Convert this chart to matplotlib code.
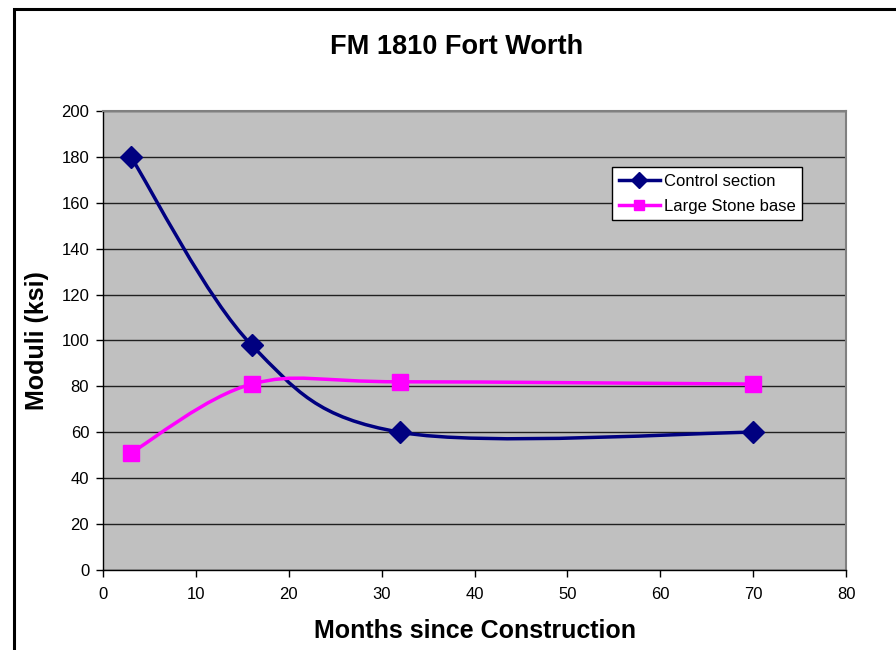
import numpy as np
import matplotlib
matplotlib.use("Agg")
import matplotlib.pyplot as plt
from matplotlib.path import Path
from matplotlib.patches import PathPatch, Rectangle
from matplotlib.lines import Line2D

plt.rcParams["font.family"] = ["Liberation Sans", "DejaVu Sans"]

months = [3, 16, 32, 70]
control = [180, 98, 60, 60]
large_stone = [51, 81, 82, 81]


def smooth_path(x, y):
    # Excel-style smoothed line: cubic bezier with catmull-rom tangents
    pts = np.column_stack([x, y]).astype(float)
    n = len(pts)
    verts = [pts[0]]
    codes = [Path.MOVETO]
    for i in range(n - 1):
        p_prev = pts[max(i - 1, 0)]
        p0, p1 = pts[i], pts[i + 1]
        p_next = pts[min(i + 2, n - 1)]
        c1 = p0 + (p1 - p_prev) / 6
        c2 = p1 - (p_next - p0) / 6
        verts += [c1, c2, p1]
        codes += [Path.CURVE4] * 3
    return Path(verts, codes)


fig = plt.figure(figsize=(8.96, 6.5), dpi=100)
ax = fig.add_axes([0.1150, 0.1231, 0.8292, 0.7062])
ax.set_facecolor("#C0C0C0")

# outer chart border
fig.patches.append(Rectangle((14 / 896, -0.1), 1.2, 0.986 + 0.1, transform=fig.transFigure,
                             fill=False, edgecolor="black", linewidth=2.2, clip_on=False))

series = [
    (control, "#000080", "D", 11, "Control section"),
    (large_stone, "#FF00FF", "s", 11, "Large Stone base"),
]
handles = []
for vals, col, mk, ms, lab in series:
    ax.add_patch(PathPatch(smooth_path(months, vals), facecolor="none", edgecolor=col,
                           linewidth=2.5, zorder=3))
    ax.plot(months, vals, linestyle="none", marker=mk, color=col, markersize=ms,
            markeredgecolor=col, zorder=4)
    handles.append(Line2D([], [], color=col, linewidth=2.5, marker=mk,
                          markersize=ms * 0.7, label=lab))

ax.set_xlim(0, 80)
ax.set_ylim(0, 200)
ax.set_xticks(range(0, 81, 10))
ax.set_yticks(range(0, 201, 20))
ax.yaxis.grid(True, color="#202020", linewidth=1)
ax.set_axisbelow(True)
ax.tick_params(direction="out", length=5, width=1, labelsize=12, color="black")
ax.tick_params(axis="x", pad=7)
ax.tick_params(axis="y", pad=5)

for s in ["top", "right"]:
    ax.spines[s].set_color("#808080")
    ax.spines[s].set_linewidth(1.5)
for s in ["left", "bottom"]:
    ax.spines[s].set_color("black")
    ax.spines[s].set_linewidth(1)

fig.text(457 / 896, 1 - 47 / 650, "FM 1810 Fort Worth", fontsize=19.5, fontweight="bold",
         ha="center", va="center")
ax.set_xlabel("Months since Construction", fontsize=18, fontweight="bold")
ax.xaxis.set_label_coords(0.5, -(631 - 570) / 459)
ax.xaxis.label.set_va("center")
ax.set_ylabel("Moduli (ksi)", fontsize=18, fontweight="bold")
ax.yaxis.set_label_coords(-(103 - 37) / 743, (570 - 341) / 459)
ax.yaxis.label.set_va("center")

leg = ax.legend(handles=handles, loc="upper left", bbox_to_anchor=(0.685, 0.878),
                fontsize=12, frameon=True, fancybox=False, edgecolor="black",
                framealpha=1, borderpad=0.4, handlelength=2.5, handletextpad=0.2,
                labelspacing=0.6, borderaxespad=0)
leg.get_frame().set_linewidth(1)

fig.savefig("out.png", dpi=100)
